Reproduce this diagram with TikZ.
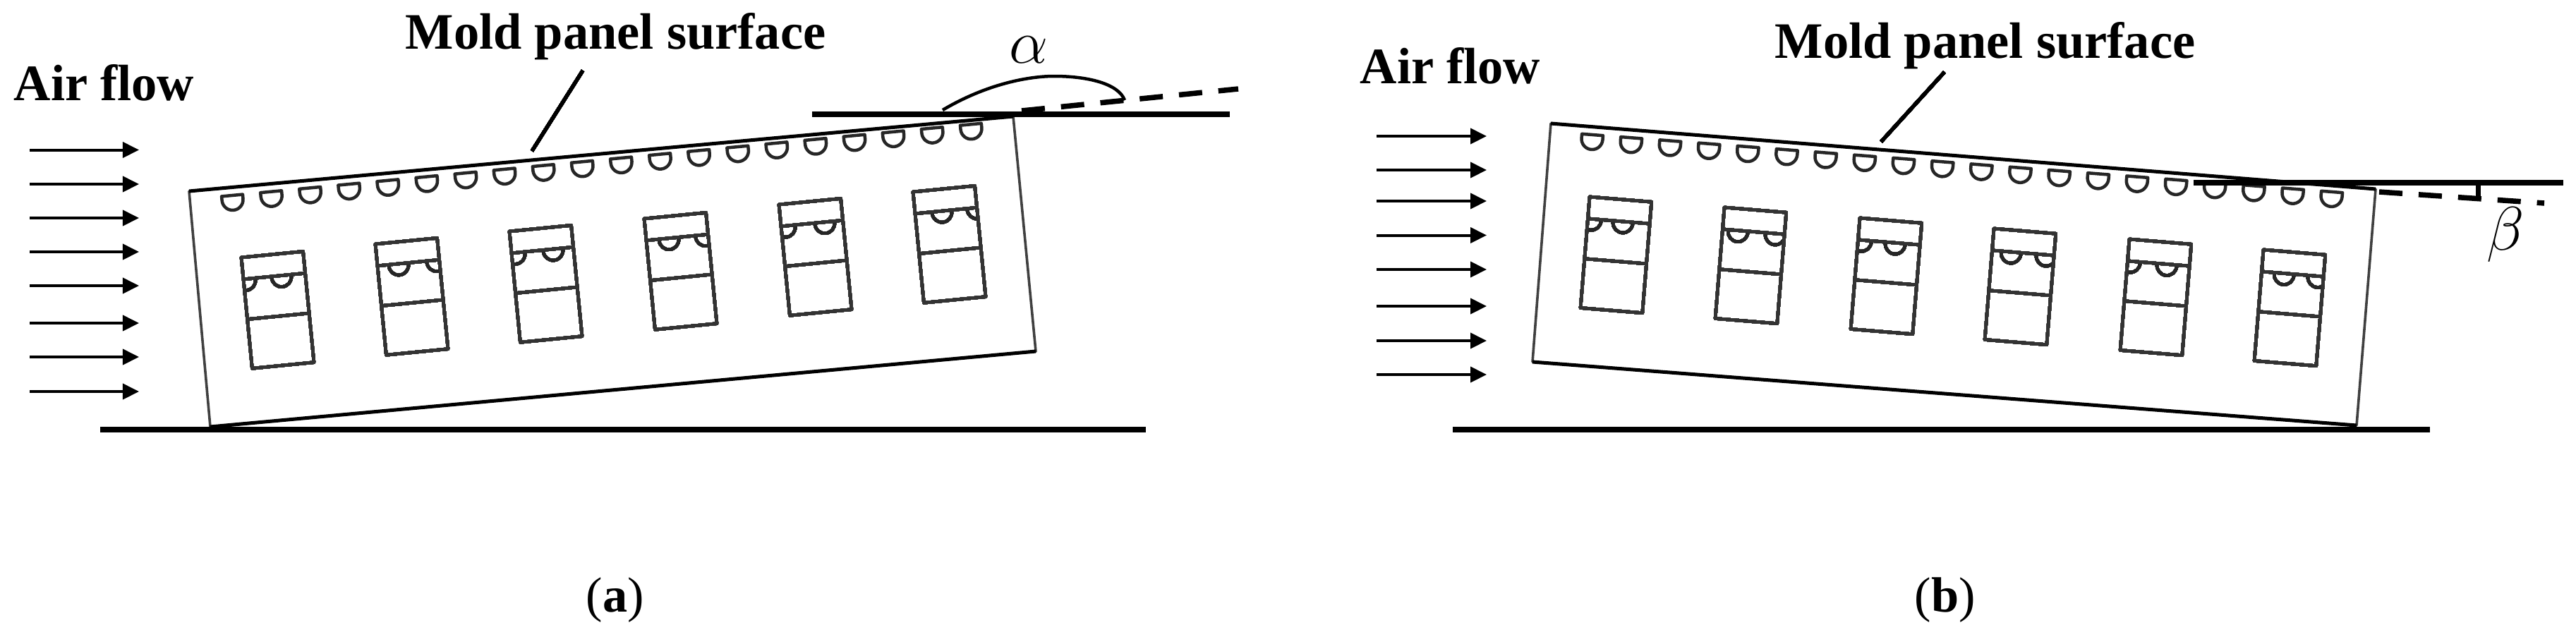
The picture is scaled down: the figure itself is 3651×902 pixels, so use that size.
\documentclass[tikz,border=0pt]{standalone}
\usepackage{fontspec}
\setmainfont{Liberation Serif}
\usetikzlibrary{arrows.meta}
\tikzset{
	flow/.style={line width=.4mm,-{Triangle[length=2.3mm,width=2.2mm]}},
	thickbase/.style={line width=.85mm},
	panelline/.style={line width=.36mm,black!75},
	paneledge/.style={line width=.5mm},
	winline/.style={line width=.45mm,black!80},
	cupline/.style={line width=.45mm,black!85},
	dashline/.style={line width=.75mm,dash pattern=on 3.3mm off 2.3mm},
	lbl/.style={font=\fontsize{20.6}{24}\selectfont\bfseries,inner sep=0pt,anchor=base west},
	caplbl/.style={font=\fontsize{20}{24}\selectfont,inner sep=0pt,anchor=base west}
}
% half disc of the panel row
\newcommand{\moldcup}[3]{
	\draw[cupline,shift={(#1,#2)},rotate=#3] (-15,0)--(15,0)--(15,-6) arc(0:-180:15)--cycle;
}
% one window: x, y of the top left corner, angle, centres of the two discs
\newcommand{\moldwin}[5]{
	\begin{scope}[shift={(#1,-#2)},rotate=#3]
		\begin{scope}
			\clip (0,0) rectangle (88,-158);
			\foreach \c in {#4,#5}
			\draw[cupline] (\c-14,-33) arc(180:360:14);
		\end{scope}
		\draw[winline] (0,0) rectangle (88,-158);
		\draw[winline] (0,-31)--(88,-31);
		\draw[winline] (0,-88)--(88,-88);
	\end{scope}
}
\begin{document}
\begin{tikzpicture}[x=.01cm,y=.01cm,line join=round]
	\useasboundingbox (0,0) rectangle (3651,-902);
	\path
	(268,-271) coordinate (A1)
	(1436,-165) coordinate (A2)
	(1468,-498) coordinate (A3)
	(298,-605) coordinate (A4)
	(142,-609) coordinate (GA1)
	(1624,-609) coordinate (GA2)
	(1151,-162) coordinate (TA1)
	(1743,-162) coordinate (TA2)
	(1448,-157) coordinate (DA1)
	(1755,-126) coordinate (DA2)
	(826,-100) coordinate (LA1)
	(754,-214) coordinate (LA2)
	(2198,-175) coordinate (B1)
	(3367,-268) coordinate (B2)
	(3340,-603) coordinate (B3)
	(2172,-513) coordinate (B4)
	(2059,-609) coordinate (GB1)
	(3444,-609) coordinate (GB2)
	(3109,-259) coordinate (TB1)
	(3633,-259) coordinate (TB2)
	(3372,-272) coordinate (DB1)
	(3606,-288) coordinate (DB2)
	(2756,-102) coordinate (LB1)
	(2666,-201) coordinate (LB2)
	(3512,-263) coordinate (KB1)
	(3512,-279) coordinate (KB2)
	;
	% left picture
	\node[lbl] (airA) at (19,-142) {Air flow};
	\node[lbl] (moldA) at (574,-69) {Mold panel surface};
	\foreach \y in {212.5,261,309,357,405,458,506,555}{
		\path (42,-\y) coordinate (s) (197,-\y) coordinate (e);
		\draw[flow] (s)--(e);
	}
	\draw[panelline] (A1)--(A2)--(A3)--(A4)--cycle;
	\draw[paneledge] (A1)--(A2);
	\draw[paneledge] (A4)--(A3);
	\foreach \i in {0,...,19}
	\moldcup{329+55.1*\i}{-277+5.3*\i}{5.4}
	\moldwin{342}{365}{5.6}{3}{54}
	\moldwin{532}{346}{5.6}{30}{84}
	\moldwin{722}{328}{5.6}{5}{59}
	\moldwin{913}{310}{5.6}{32}{84}
	\moldwin{1104}{290}{5.6}{6}{62}
	\moldwin{1294}{272}{5.6}{38}{88}
	\draw[line width=.5mm] (LA1)--(LA2);
	\draw[thickbase] (GA1)--(GA2);
	\draw[thickbase] (TA1)--(TA2);
	\draw[dashline] (DA1)--(DA2);
	\draw[line width=.45mm] (1336,-156) .. controls (1400,-118) and (1460,-108) .. (1494,-108)
	.. controls (1540,-108) and (1585,-118) .. (1594,-142);
	\node[caplbl,anchor=center,font=\fontsize{23}{24}\selectfont] (alphaA) at (1458,-71) {$\alpha$};
	\node[caplbl] (capA) at (830,-867) {(\textbf{a})};
	% right picture
	\node[lbl] (airB) at (1927,-118) {Air flow};
	\node[lbl] (moldB) at (2515,-82) {Mold panel surface};
	\foreach \y in {193,241,285,333.5,382,434,483,531}{
		\path (1951,-\y) coordinate (s) (2107,-\y) coordinate (e);
		\draw[flow] (s)--(e);
	}
	\draw[panelline] (B1)--(B2)--(B3)--(B4)--cycle;
	\draw[paneledge] (B1)--(B2);
	\draw[paneledge] (B4)--(B3);
	\foreach \i in {0,...,19}
	\moldcup{2257+55.16*\i}{-191-4.26*\i}{-4.5}
	\moldwin{2253}{279}{-4.7}{5}{50}
	\moldwin{2444}{294}{-4.7}{22}{75}
	\moldwin{2636}{309}{-4.7}{5}{53}
	\moldwin{2826}{324}{-4.7}{27}{77}
	\moldwin{3018}{339}{-4.7}{4}{56}
	\moldwin{3208}{354}{-4.7}{32}{80}
	\draw[line width=.5mm] (LB1)--(LB2);
	\draw[thickbase] (GB1)--(GB2);
	\draw[thickbase] (TB1)--(TB2);
	\draw[dashline] (DB1)--(DB2);
	\draw[line width=.7mm] (KB1)--(KB2);
	\node[caplbl,anchor=center,font=\fontsize{23}{24}\selectfont] (betaB) at (3551,-333) {$\beta$};
	\node[caplbl] (capB) at (2713,-867) {(\textbf{b})};
\end{tikzpicture}
\end{document}
